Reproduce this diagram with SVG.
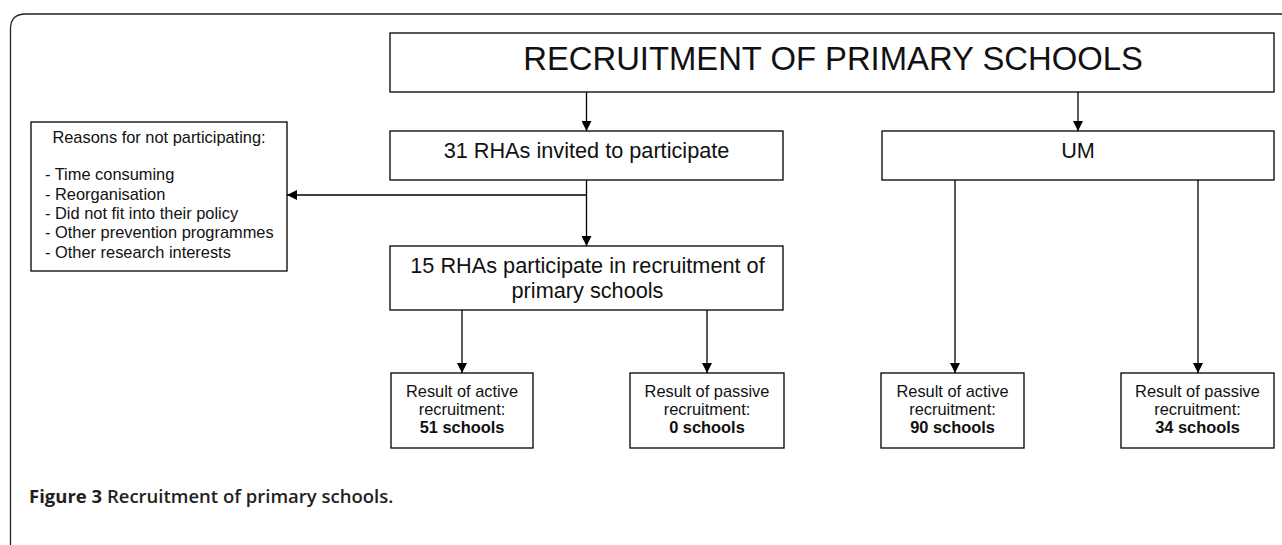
<svg xmlns="http://www.w3.org/2000/svg" width="1282" height="545" viewBox="0 0 1282 545">
<defs>
<marker id="arr" viewBox="0 0 10 10" refX="10" refY="5" markerWidth="10" markerHeight="10" markerUnits="userSpaceOnUse" orient="auto">
<path d="M0,0 L10,5 L0,10 z" fill="#000"/>
</marker>
<style>
.box{fill:#fff;stroke:#000;stroke-width:1.3}
.ln{fill:none;stroke:#000;stroke-width:1.3}
.t{font-family:"Liberation Sans",Arial,sans-serif;fill:#111}
.c{text-anchor:middle}
.b{font-weight:bold}
.m{font-size:21.7px}
.s{font-size:16.4px}
</style>
</defs>
<rect width="1282" height="545" fill="#fff"/>
<path d="M10.5,545 L10.5,29 Q10.5,14 25.5,14 L1282,14" fill="none" stroke="#222" stroke-width="1.3"/>

<g id="connectors">
<line class="ln" x1="586.5" y1="92" x2="586.5" y2="131" marker-end="url(#arr)"/>
<line class="ln" x1="1078" y1="92" x2="1078" y2="131" marker-end="url(#arr)"/>
<line class="ln" x1="586.5" y1="180" x2="586.5" y2="246" marker-end="url(#arr)"/>
<line class="ln" x1="586.5" y1="195" x2="287" y2="195" marker-end="url(#arr)"/>
<line class="ln" x1="462" y1="310" x2="462" y2="373" marker-end="url(#arr)"/>
<line class="ln" x1="707" y1="310" x2="707" y2="373" marker-end="url(#arr)"/>
<line class="ln" x1="955" y1="180" x2="955" y2="373" marker-end="url(#arr)"/>
<line class="ln" x1="1198" y1="180" x2="1198" y2="373" marker-end="url(#arr)"/>
</g>

<g id="title">
<rect class="box" x="390" y="33" width="884" height="59"/>
<text class="t c" x="833" y="69.5" font-size="32.8">RECRUITMENT OF PRIMARY SCHOOLS</text>
</g>

<g id="rhas-invited">
<rect class="box" x="390" y="131" width="393" height="49"/>
<text class="t c m" x="586.5" y="157.5">31 RHAs invited to participate</text>
</g>

<g id="um">
<rect class="box" x="882" y="131" width="392" height="49"/>
<text class="t c m" x="1078" y="157.5">UM</text>
</g>

<g id="reasons">
<rect class="box" x="31" y="122" width="256" height="149"/>
<text class="t c s" x="159" y="143">Reasons for not participating:</text>
<text class="t s">
<tspan x="45" y="180">- Time consuming</tspan>
<tspan x="45" y="199.5">- Reorganisation</tspan>
<tspan x="45" y="218.5">- Did not fit into their policy</tspan>
<tspan x="45" y="238">- Other prevention programmes</tspan>
<tspan x="45" y="257.5">- Other research interests</tspan>
</text>
</g>

<g id="rhas-participate">
<rect class="box" x="390" y="246" width="393" height="64"/>
<text class="t c m" x="587.5" y="273">15 RHAs participate in recruitment of</text>
<text class="t c m" x="587.5" y="298">primary schools</text>
</g>

<g id="rha-active">
<rect class="box" x="391" y="373" width="142" height="75"/>
<text class="t c s" x="462" y="397">Result of active</text>
<text class="t c s" x="462" y="414.5">recruitment:</text>
<text class="t c b s" x="462" y="433">51 schools</text>
</g>

<g id="rha-passive">
<rect class="box" x="630" y="373" width="154" height="75"/>
<text class="t c s" x="707" y="397">Result of passive</text>
<text class="t c s" x="707" y="414.5">recruitment:</text>
<text class="t c b s" x="707" y="433">0 schools</text>
</g>

<g id="um-active">
<rect class="box" x="881" y="373" width="143" height="75"/>
<text class="t c s" x="952.5" y="397">Result of active</text>
<text class="t c s" x="952.5" y="414.5">recruitment:</text>
<text class="t c b s" x="952.5" y="433">90 schools</text>
</g>

<g id="um-passive">
<rect class="box" x="1121" y="373" width="153" height="75"/>
<text class="t c s" x="1197.5" y="397">Result of passive</text>
<text class="t c s" x="1197.5" y="414.5">recruitment:</text>
<text class="t c b s" x="1197.5" y="433">34 schools</text>
</g>

<text x="29" y="503" font-family="'Open Sans','Noto Sans',sans-serif" font-size="18.5" fill="#231f20"><tspan font-weight="bold">Figure 3</tspan> <tspan font-weight="600">Recruitment of primary schools.</tspan></text>
</svg>
